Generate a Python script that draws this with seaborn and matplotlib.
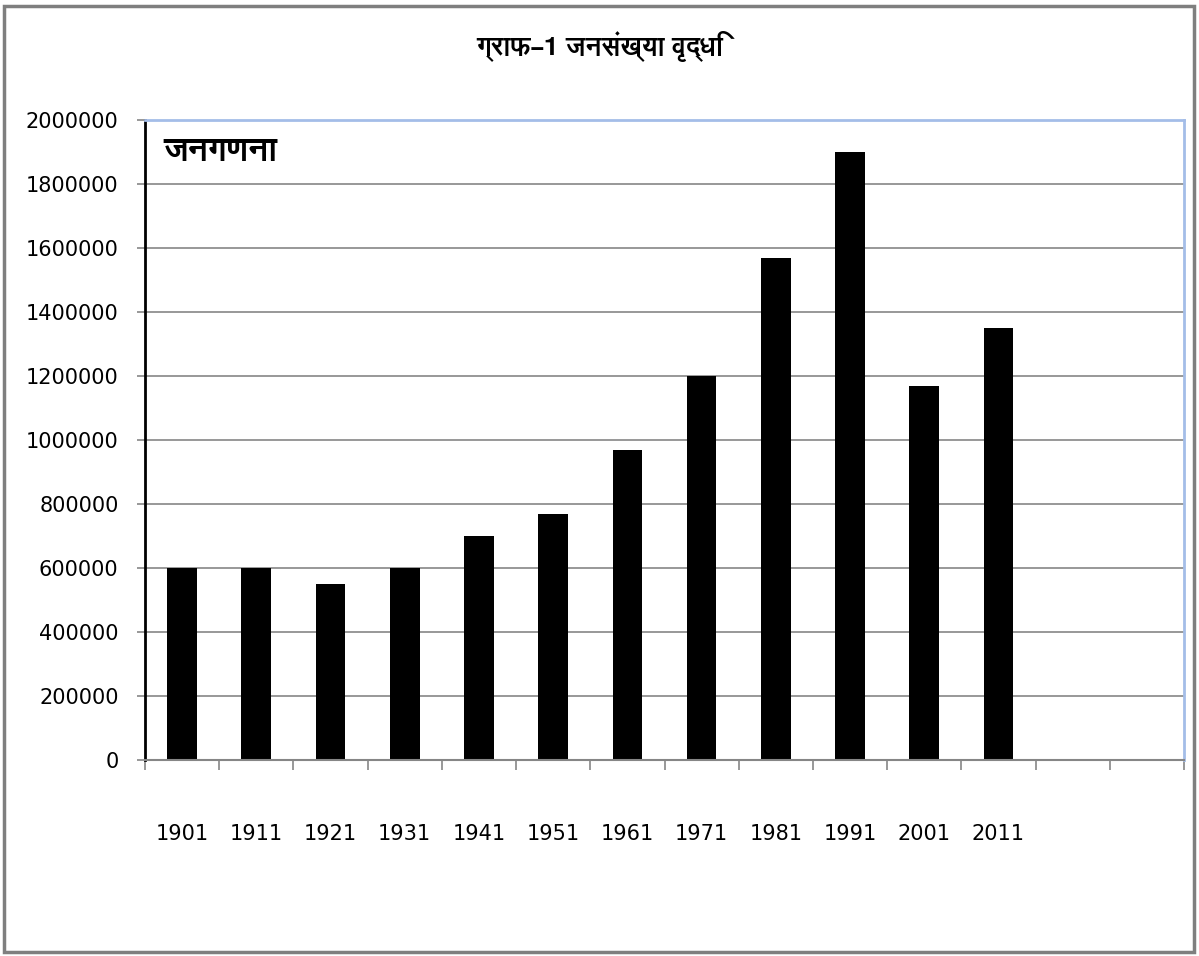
import matplotlib
matplotlib.use("Agg")
import matplotlib.pyplot as plt
from matplotlib import font_manager
from matplotlib.ft2font import FT2Font
from matplotlib.patches import Rectangle
import seaborn as sns
import pandas as pd
import numpy as np

years = ["1901", "1911", "1921", "1931", "1941", "1951", "1961", "1971",
         "1981", "1991", "2001", "2011"]
population = [600000, 600000, 550000, 600000, 700000, 770000, 970000, 1200000,
              1570000, 1900000, 1170000, 1350000]
y_ticks = [0, 200000, 400000, 600000, 800000, 1000000, 1200000, 1400000,
           1600000, 1800000, 2000000]
title_text = "ग्राफ–1 जनसंख्या वृद्धि"
inner_label = "जनगणना"
n_slots = 14

# find a font with Devanagari glyphs
deva_family = None
for fe in font_manager.fontManager.ttflist:
    try:
        f = FT2Font(fe.fname)
        if 0x091C in f.get_charmap():
            deva_family = fe.name
            if "Devanagari" in fe.name or "Sans" in fe.name:
                break
    except Exception:
        pass

sns.set_theme(style="white")
plt.rcParams['font.family'] = ['DejaVu Sans']
plt.rcParams['text.color'] = 'black'
plt.rcParams['xtick.color'] = 'black'
plt.rcParams['ytick.color'] = 'black'
deva_fams = ([deva_family] if deva_family else []) + ['DejaVu Sans']

df = pd.DataFrame({"year": years, "pop": population})

fig = plt.figure(figsize=(11.99, 9.56), dpi=100)
ax = fig.add_axes([145/1199, 1 - 760/956, (1184-145)/1199, (760-120)/956])

sns.barplot(data=df, x="year", y="pop", order=years, color="black",
            width=0.4, ax=ax, saturation=1)
for p in ax.patches:
    p.set_edgecolor("none")

ax.set_xlim(-0.5, n_slots - 0.5)
ax.set_ylim(0, 2000000)
ax.set_yticks(y_ticks)
ax.set_yticklabels([str(v) for v in y_ticks], fontsize=15, color="black")
ax.yaxis.grid(True, color="#868686", linewidth=1.2)
ax.set_axisbelow(True)
ax.set_xlabel("")
ax.set_ylabel("")

ax.set_xticks(range(len(years)))
ax.set_xticklabels(years, fontsize=15, color="black")
ax.set_xticks(np.arange(-0.5, n_slots, 1.0), minor=True)
ax.tick_params(axis="x", which="major", length=0, pad=46)
ax.tick_params(axis="x", which="minor", length=7, width=1.2, color="#868686", bottom=True)
ax.tick_params(axis="y", which="major", length=6, width=1.2, color="#868686", left=True, pad=13)

for side in ["top", "right"]:
    ax.spines[side].set_color("#a4bde8")
    ax.spines[side].set_linewidth(2)
ax.spines["left"].set_color("black")
ax.spines["left"].set_linewidth(2)
ax.spines["bottom"].set_color("#868686")
ax.spines["bottom"].set_linewidth(1.5)

ax.text(0.018, 0.975, inner_label, transform=ax.transAxes, fontsize=24,
        fontweight="bold", va="top", ha="left", family=deva_fams, color="black")
fig.text(600/1199, 1 - 46/956, title_text, fontsize=19, fontweight="bold",
         ha="center", va="center", family=deva_fams, color="black")

fig.patches.append(Rectangle((4/1199, 4/956), 1190/1199, 946/956,
                             transform=fig.transFigure, fill=False,
                             edgecolor="#7f7f7f", linewidth=2.5))

fig.savefig("out.png", dpi=100, facecolor="white")
